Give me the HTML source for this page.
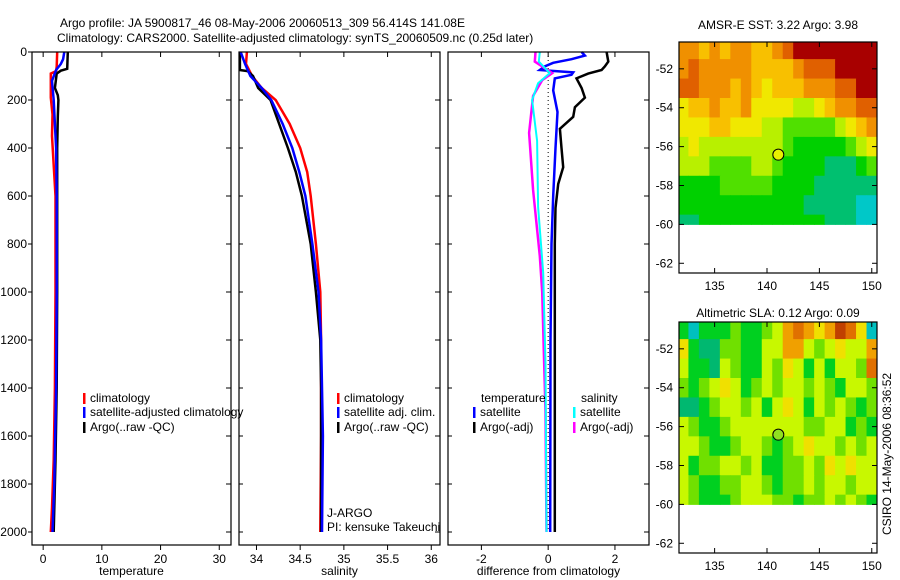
<!DOCTYPE html>
<html><head><meta charset="utf-8"><style>
body{margin:0;background:#fff}
svg{display:block;font-family:"Liberation Sans",sans-serif;font-size:12px}
</style></head><body>
<svg id="fig" width="900" height="580" viewBox="0 0 900 580">
<text x="60" y="27">Argo profile: JA 5900817_46 08-May-2006 20060513_309 56.414S 141.08E</text>
<text x="57" y="42">Climatology: CARS2000. Satellite-adjusted climatology: synTS_20060509.nc (0.25d later)</text>
<text x="778" y="29" text-anchor="middle">AMSR-E SST: 3.22 Argo: 3.98</text>
<text x="778" y="317" text-anchor="middle">Altimetric SLA: 0.12 Argo: 0.09</text>
<text transform="translate(891,454) rotate(-90)" text-anchor="middle">CSIRO 14-May-2006 08:36:52</text>
</svg>
<script>
// ---------- data ----------
const depthTicks=[0,200,400,600,800,1000,1200,1400,1600,1800,2000];
const tempTicks=[0,10,20,30];
const salTicks=[34,34.5,35,35.5,36];
const diffTicks=[-2,0,2];
const lonTicks=[135,140,145,150];
const latTicks=[-52,-54,-56,-58,-60,-62];

const tempArgoZ=[0,70,78,90,150,180,200,270,400,600,1000,1400,1700,2000];
const tempArgoV=[4.2,4.1,3.0,2.3,2.0,2.5,2.6,2.5,2.4,2.4,2.4,2.3,2.1,1.8];
const tempClimZ=[0,60,80,90,190,260,350,600,1000,1400,1700,1900,2000];
const tempClimV=[2.4,2.3,2.2,1.3,1.3,1.6,1.5,2.1,2.1,2.0,1.8,1.5,1.3];
const tempSatZ=[0,30,50,75,120,200,400,600,1000,1400,1800,2000];
const tempSatV=[3.6,3.4,3.0,2.2,1.5,1.8,2.2,2.3,2.3,2.2,1.9,1.6];

const salArgoZ=[0,75,80,100,150,200,300,400,500,600,800,1000,1200,1400,2000];
const salArgoV=[33.81,33.81,33.90,33.96,34.02,34.16,34.26,34.36,34.45,34.52,34.62,34.68,34.73,34.74,34.74];
const salClimZ=[0,50,100,150,200,300,400,500,600,800,1000,1200,1600,2000];
const salClimV=[33.89,33.88,33.95,34.06,34.22,34.38,34.50,34.58,34.62,34.68,34.73,34.74,34.74,34.73];
const salSatZ=[0,50,100,150,200,300,400,500,600,800,1000,1200,1600,2000];
const salSatV=[33.82,33.87,33.93,34.06,34.17,34.30,34.41,34.49,34.56,34.64,34.71,34.74,34.76,34.75];

const dTArgoZ=[0,40,60,75,90,110,150,190,230,270,320,400,480,550,650,800,1200,2000];
const dTArgoV=[1.75,1.8,1.7,1.6,1.2,0.85,1.0,1.1,0.8,0.75,0.35,0.4,0.45,0.3,0.22,0.2,0.2,0.2];
const dTSatZ=[0,15,30,45,60,75,85,95,110,160,250,400,600,800,1200,2000];
const dTSatV=[1.0,1.1,0.7,0.15,-0.1,-0.25,0.75,0.7,0.2,0.15,0.28,0.22,0.15,0.1,0.07,0.06];
const dSSatZ=[0,40,88,130,200,370,645,920,1300,2000];
const dSSatV=[-0.25,-0.28,0.05,-0.3,-0.48,-0.33,-0.3,-0.15,-0.08,-0.05];
const dSArgoZ=[0,40,88,117,183,337,575,850,1000,1500,2000];
const dSArgoV=[-0.38,-0.4,0.12,-0.18,-0.45,-0.57,-0.45,-0.25,-0.18,-0.08,-0.05];

const mapLons=[132,133,134,135,136,137,138,139,140,141,142,143,144,145,146,147,148,149,150];
const mapLats=[-51,-52,-53,-54,-55,-56,-57,-58,-59,-60];
const sstGrid=[
[7,7,6,7,6,7,7,6,6,7,8,9,9,9,9,9,9,9,9],
[7,8,7,7,7,7,7,6,6,6,6,7,8,8,8,9,9,9,9],
[8,8,7,7,7,6,7,6,5,6,6,6,7,7,7,8,8,9,9],
[5,6,6,7,6,6,7,5,5,5,5,4,4,5,6,7,7,8,8],
[5,5,5,6,6,5,5,5,4,4,3,3,3,3,3,4,5,6,7],
[4,5,4,4,4,4,4,4,4,4,3,2,2,2,2,2,3,4,5],
[4,4,4,3,3,3,3,4,4,3,2,2,2,2,1,1,1,2,3],
[2,2,2,2,3,3,3,3,3,2,2,2,2,1,1,1,1,1,1],
[2,2,2,2,2,2,2,2,2,2,2,2,1,1,1,1,1,0,0],
[1,1,2,2,2,2,2,2,2,2,2,2,2,2,1,1,1,0,0]];
const slaGrid=[
[2,0,2,2,2,3,2,2,3,4,6,7,6,5,6,8,7,5,0],
[5,2,1,1,3,3,2,2,4,4,6,6,4,3,4,5,4,4,6],
[4,2,2,1,4,3,2,2,4,3,5,4,2,4,2,4,4,3,7],
[3,2,3,4,5,4,2,3,4,3,4,4,3,4,3,2,4,4,3],
[1,1,2,3,4,4,3,4,2,4,5,4,2,4,3,4,3,2,3],
[4,3,2,2,3,4,4,4,4,4,4,4,3,3,4,4,2,3,2],
[4,4,3,2,2,3,4,4,3,2,3,4,5,4,4,3,4,3,4],
[4,2,3,3,4,4,3,4,2,2,3,3,4,3,5,4,5,4,4],
[4,3,2,2,3,3,4,4,3,2,3,3,4,3,4,4,3,4,4],
[4,3,2,2,2,3,4,4,4,3,3,2,3,3,4,3,4,3,2]];
const argoLon=[141.08];
const argoLat=[-56.414];

// ---------- drawing ----------
const NS="http://www.w3.org/2000/svg";
const svg=document.getElementById('fig');
function mk(tag,attrs,parent){const e=document.createElementNS(NS,tag);for(const k in attrs)e.setAttribute(k,attrs[k]);(parent||svg).appendChild(e);return e;}
const TOP=52,BOT=545;
const yD=z=>TOP+z*0.24;

const panels=[
 {l:32,r:231,x0:-1.9,x1:32.0,ticks:tempTicks,label:'temperature',name:'temperature'},
 {l:239,r:440,x0:33.80,x1:36.10,ticks:salTicks,label:'salinity',name:'salinity'},
 {l:448,r:649,x0:-3.0,x1:3.02,ticks:diffTicks,label:'difference from climatology',name:'difference'}
];
panels.forEach((p,i)=>{p.sx=v=>p.l+(v-p.x0)/(p.x1-p.x0)*(p.r-p.l);});

function profile(p,zs,vs,color,w,name){
  const pts=zs.map((z,i)=>p.sx(vs[i]).toFixed(1)+','+yD(z).toFixed(1)).join(' ');
  const e=mk('polyline',{points:pts,fill:'none',stroke:color,'stroke-width':w,'stroke-linejoin':'miter'});
  
  
}

// zero line in diff panel
const zl=mk('line',{x1:panels[2].sx(0),x2:panels[2].sx(0),y1:TOP,y2:yD(2000),stroke:'#000','stroke-dasharray':'1,3','stroke-width':1});



profile(panels[0],tempClimZ,tempClimV,'#f00',2.5,'temp-climatology-line');
profile(panels[0],tempArgoZ,tempArgoV,'#000',2.5,'temp-argo-line');
profile(panels[0],tempSatZ,tempSatV,'#00f',2.5,'temp-satellite-line');
profile(panels[1],salClimZ,salClimV,'#f00',2.5,'sal-climatology-line');
profile(panels[1],salArgoZ,salArgoV,'#000',2.5,'sal-argo-line');
profile(panels[1],salSatZ,salSatV,'#00f',2.5,'sal-satellite-line');
profile(panels[2],dTArgoZ,dTArgoV,'#000',2.5,'diff-temp-argo-line');
profile(panels[2],dTSatZ,dTSatV,'#00f',2.5,'diff-temp-satellite-line');
profile(panels[2],dSArgoZ,dSArgoV,'#f0f',2.5,'diff-sal-argo-line');
profile(panels[2],dSSatZ,dSSatV,'#0ff',2,'diff-sal-satellite-line');

panels.forEach((p,i)=>{
  const r=mk('rect',{x:p.l,y:TOP,width:p.r-p.l,height:BOT-TOP,fill:'none',stroke:'#000','stroke-width':1.2});
  
  
  p.ticks.forEach(t=>{
    const x=p.sx(t);
    mk('line',{x1:x,x2:x,y1:BOT,y2:BOT+5,stroke:'#000'});
    mk('line',{x1:x,x2:x,y1:TOP,y2:TOP+5,stroke:'#000'});
    const tx=mk('text',{x:x,y:BOT+18,'text-anchor':'middle'});tx.textContent=t;
    
    
  });
  const xl=mk('text',{x:(p.l+p.r)/2,y:575,'text-anchor':'middle'});xl.textContent=p.label;
  
  
  depthTicks.forEach(d=>{
    const y=yD(d);
    mk('line',{x1:p.l-(i==0?4:0),x2:p.l+(i==0?0:4),y1:y,y2:y,stroke:'#000'});
    mk('line',{x1:p.r-5,x2:p.r,y1:y,y2:y,stroke:'#000'});
    if(i==0){const t=mk('text',{x:27,y:y+4,'text-anchor':'end'});t.textContent=d;
      
      }
  });
});

function legend(x,y,color,text,name){
  mk('rect',{x:x,y:y-9,width:2.5,height:11,fill:color});
  const t=mk('text',{x:x+7,y:y});t.textContent=text;
  
  
}
legend(83,402,'#f00','climatology','legend-temp-climatology');
legend(83,416,'#00f','satellite-adjusted climatology','legend-temp-satellite');
legend(83,431,'#000','Argo(..raw -QC)','legend-temp-argo');
legend(337,402,'#f00','climatology','legend-sal-climatology');
legend(337,416,'#00f','satellite adj. clim.','legend-sal-satellite');
legend(337,431,'#000','Argo(..raw -QC)','legend-sal-argo');
svg.appendChild(document.createElementNS(NS,'g'));
const lt=mk('text',{x:481,y:402});lt.textContent='temperature';


const ls=mk('text',{x:581,y:402});ls.textContent='salinity';


legend(473,416,'#00f','satellite','legend-diff-temp-satellite');
legend(473,431,'#000','Argo(-adj)','legend-diff-temp-argo');
legend(573,416,'#0ff','satellite','legend-diff-sal-satellite');
legend(573,431,'#f0f','Argo(-adj)','legend-diff-sal-argo');
const j1=mk('text',{x:327,y:517});j1.textContent='J-ARGO';


const j2=mk('text',{x:327,y:531});j2.textContent='PI: kensuke Takeuchi';



// ---------- maps ----------
const sstColors=['#00c8c8','#00c070','#00d000','#50e000','#b8f000','#f0e800','#f8c000','#f09000','#e06000','#a80000'];
const slaColors=['#00c0c0','#00b870','#00d020','#70e000','#c8f800','#f0e000','#f0a000','#e07000','#c04000'];
function drawMap(top,bot,grid,colors,marker,name){
  const L=679,R=877,lon0=131.6,lon1=150.5,lat0=-50.62,lat1=-62.5;
  const sx=v=>L+(v-lon0)/(lon1-lon0)*(R-L);
  const sy=v=>top+(v-lat0)/(lat1-lat0)*(bot-top);
  const g=mk('g',{});
  
  
  const cid=name+'-clip';
  const cp=mk('clipPath',{id:cid},g);mk('rect',{x:L,y:top,width:R-L,height:bot-top},cp);
  const cg=mk('g',{'clip-path':'url(#'+cid+')'},g);
  grid.forEach((row,ri)=>row.forEach((v,ci)=>{
    const x0=sx(mapLons[ci]-0.5),x1=sx(mapLons[ci]+0.5);
    const y0=sy(Math.min(lat0,mapLats[ri]+0.5)),y1=sy(mapLats[ri]-0.5+ (ri==grid.length-1?0.5:0));
    const c=mk('rect',{x:x0,y:y0,width:x1-x0+0.5,height:y1-y0+0.5,fill:colors[v]},cg);
    
    
  }));
  const m=mk('circle',{cx:sx(argoLon[0]),cy:sy(argoLat[0]),r:5.5,fill:marker,stroke:'#000','stroke-width':1});
  
  
  const f=mk('rect',{x:L,y:top,width:R-L,height:bot-top,fill:'none',stroke:'#000','stroke-width':1.2});
  
  
  lonTicks.forEach(t=>{const x=sx(t);
    mk('line',{x1:x,x2:x,y1:bot,y2:bot-5,stroke:'#000'});mk('line',{x1:x,x2:x,y1:top,y2:top+5,stroke:'#000'});
    const tx=mk('text',{x:x,y:bot+17,'text-anchor':'middle'});tx.textContent=t;
    
    });
  latTicks.forEach(t=>{const y=sy(t);
    mk('line',{x1:L,x2:L+5,y1:y,y2:y,stroke:'#000'});mk('line',{x1:R-5,x2:R,y1:y,y2:y,stroke:'#000'});
    const tx=mk('text',{x:L-6,y:y+4,'text-anchor':'end'});tx.textContent=t;
    
    });
}
drawMap(42,273,sstGrid,sstColors,'#e8f000','sst-map');
drawMap(322,553,slaGrid,slaColors,'#90e020','sla-map');
</script>
</body></html>
